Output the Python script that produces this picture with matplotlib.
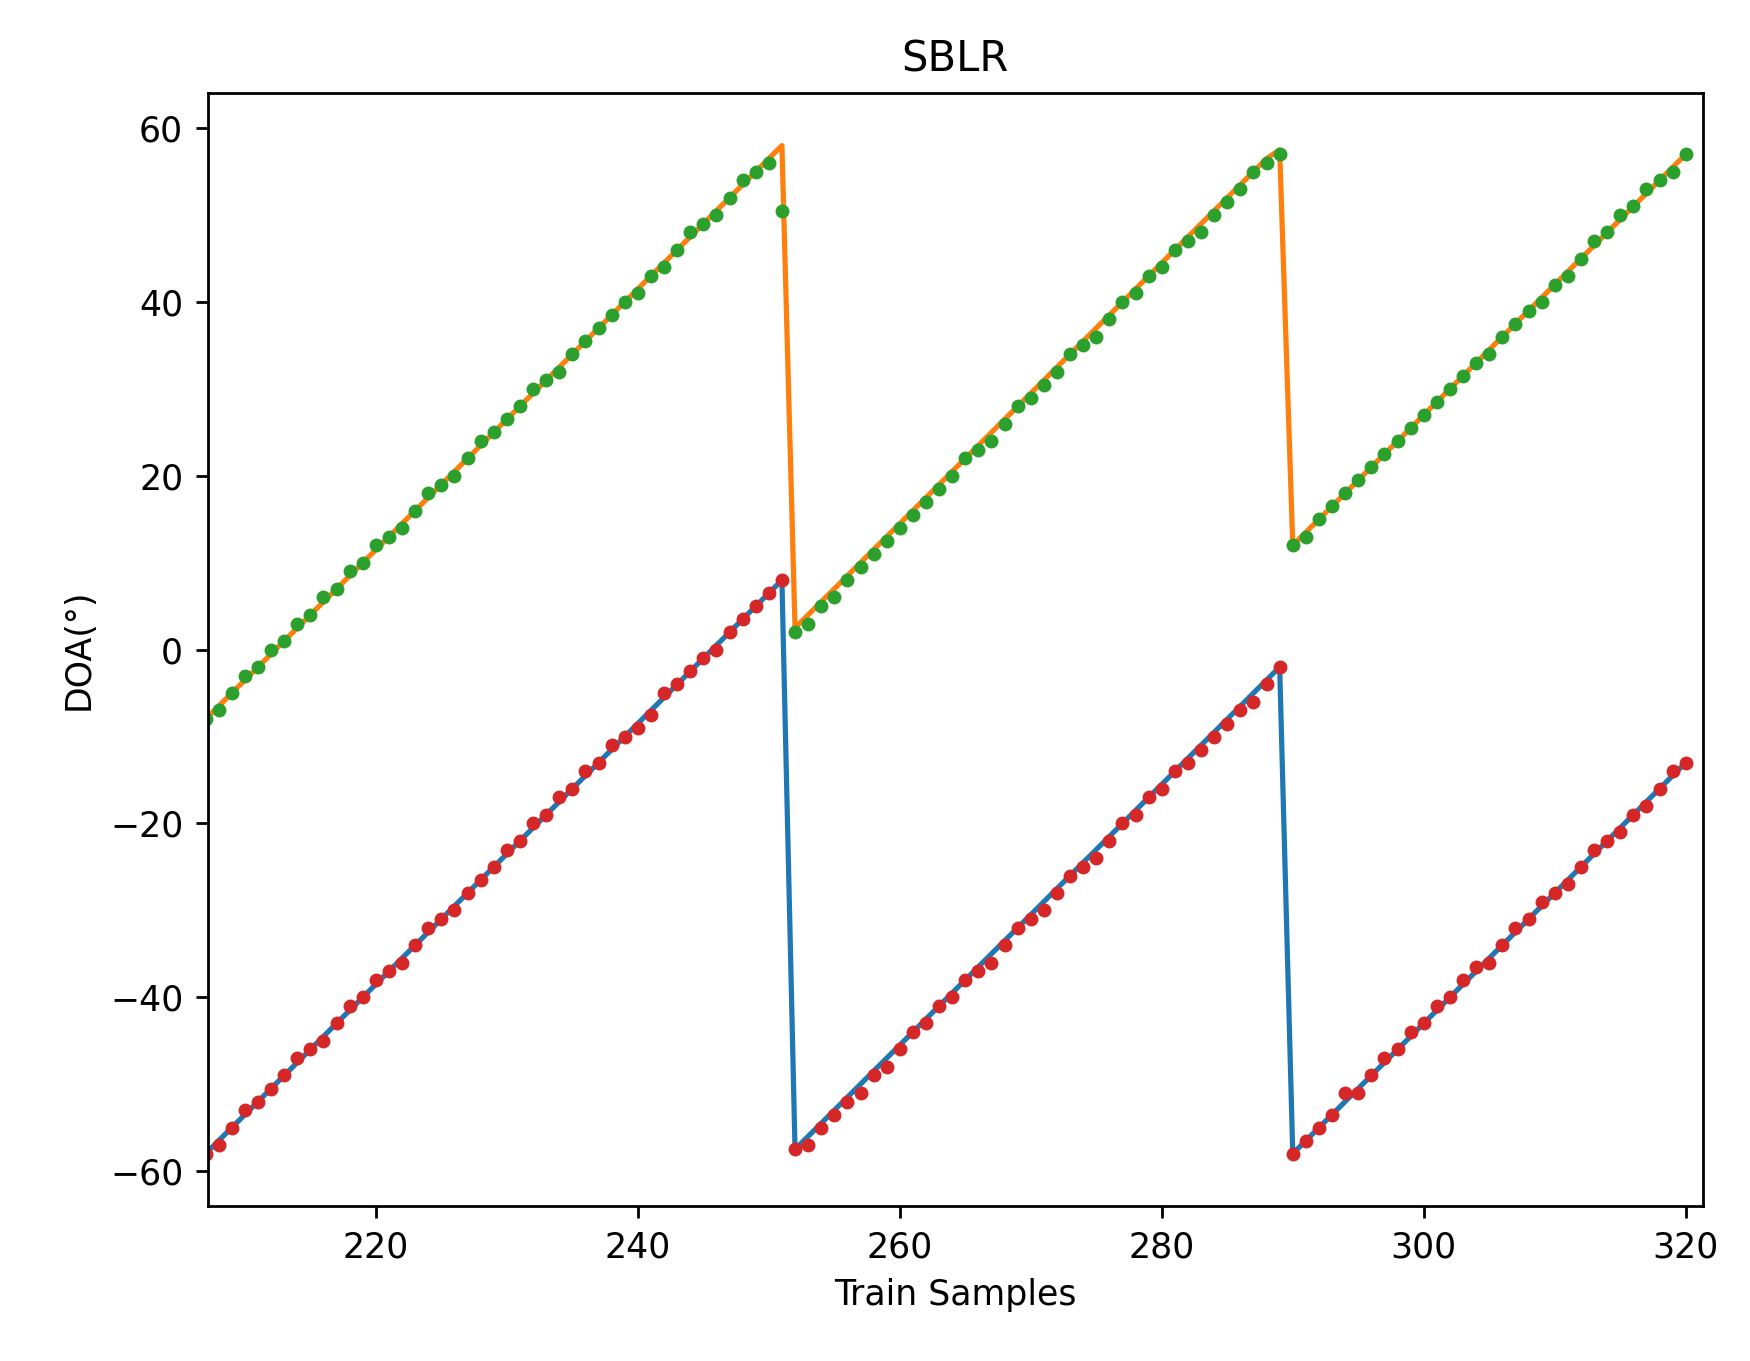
import numpy as np
import matplotlib
matplotlib.use('agg')
import matplotlib.pyplot as plt

##### Data
x = np.arange(207, 321)
true1 = [-58,-56.5,-55,-53.5,-52,-50.5,-49,-47.5,-46,-44.5,-43,-41.5,-40,-38.5,-37,-35.5,-34,-32.5,-31,-29.5,-28,-26.5,-25,-23.5,-22,-20.5,-19,-17.5,-16,-14.5,-13,-11.5,-10,-8.5,-7,-5.5,-4,-2.5,-1,0.5,2,3.5,5,6.5,8,
         -57.5,-56,-54.5,-53,-51.5,-50,-48.5,-47,-45.5,-44,-42.5,-41,-39.5,-38,-36.5,-35,-33.5,-32,-30.5,-29,-27.5,-26,-24.5,-23,-21.5,-20,-18.5,-17,-15.5,-14,-12.5,-11,-9.5,-8,-6.5,-5,-3.5,-2,
         -58,-56.5,-55,-53.5,-52,-50.5,-49,-47.5,-46,-44.5,-43,-41.5,-40,-38.5,-37,-35.5,-34,-32.5,-31,-29.5,-28,-26.5,-25,-23.5,-22,-20.5,-19,-17.5,-16,-14.5,-13]
true2 = [-8,-6.5,-5,-3.5,-2,-0.5,1,2.5,4,5.5,7,8.5,10,11.5,13,14.5,16,17.5,19,20.5,22,23.5,25,26.5,28,29.5,31,32.5,34,35.5,37,38.5,40,41.5,43,44.5,46,47.5,49,50.5,52,53.5,55,56.5,58,
         2.5,4,5.5,7,8.5,10,11.5,13,14.5,16,17.5,19,20.5,22,23.5,25,26.5,28,29.5,31,32.5,34,35.5,37,38.5,40,41.5,43,44.5,46,47.5,49,50.5,52,53.5,55,56.5,57.5,
         12,13.5,15,16.5,18,19.5,21,22.5,24,25.5,27,28.5,30,31.5,33,34.5,36,37.5,39,40.5,42,43.5,45,46.5,48,49.5,51,52.5,54,55.5,57]
est1 = [-58,-57,-55,-53,-52,-50.5,-49,-47,-46,-45,-43,-41,-40,-38,-37,-36,-34,-32,-31,-30,-28,-26.5,-25,-23,-22,-20,-19,-17,-16,-14,-13,-11,-10,-9,-7.5,-5,-4,-2.5,-1,0,2,3.5,5,6.5,8,
        -57.5,-57,-55,-53.5,-52,-51,-49,-48,-46,-44,-43,-41,-40,-38,-37,-36,-34,-32,-31,-30,-28,-26,-25,-24,-22,-20,-19,-17,-16,-14,-13,-11.5,-10,-8.5,-7,-6,-4,-2,
        -58,-56.5,-55,-53.5,-51,-51,-49,-47,-46,-44,-43,-41,-40,-38,-36.5,-36,-34,-32,-31,-29,-28,-27,-25,-23,-22,-21,-19,-18,-16,-14,-13]
est2 = [-8,-7,-5,-3,-2,0,1,3,4,6,7,9,10,12,13,14,16,18,19,20,22,24,25,26.5,28,30,31,32,34,35.5,37,38.5,40,41,43,44,46,48,49,50,52,54,55,56,50.5,
        2,3,5,6,8,9.5,11,12.5,14,15.5,17,18.5,20,22,23,24,26,28,29,30.5,32,34,35,36,38,40,41,43,44,46,47,48,50,51.5,53,55,56,57,
        12,13,15,16.5,18,19.5,21,22.5,24,25.5,27,28.5,30,31.5,33,34,36,37.5,39,40,42,43,45,47,48,50,51,53,54,55,57]

##### Plot
fig, ax = plt.subplots(figsize=(7, 5.444), dpi=250)
fig.subplots_adjust(left=0.1186, right=0.973, top=0.932, bottom=0.114)
ax.plot(x, true1, color='tab:blue')
ax.plot(x, true2, color='tab:orange')
ax.plot(x, est1, '.', color='tab:red')
ax.plot(x, est2, '.', color='tab:green')
ax.set_xlim(207.15, 321.3)
ax.set_ylim(-64, 64.1)
ax.set_xlabel('Train Samples')
ax.set_ylabel('DOA(°)')
ax.set_title('SBLR')
plt.savefig('out.png', dpi=250)
